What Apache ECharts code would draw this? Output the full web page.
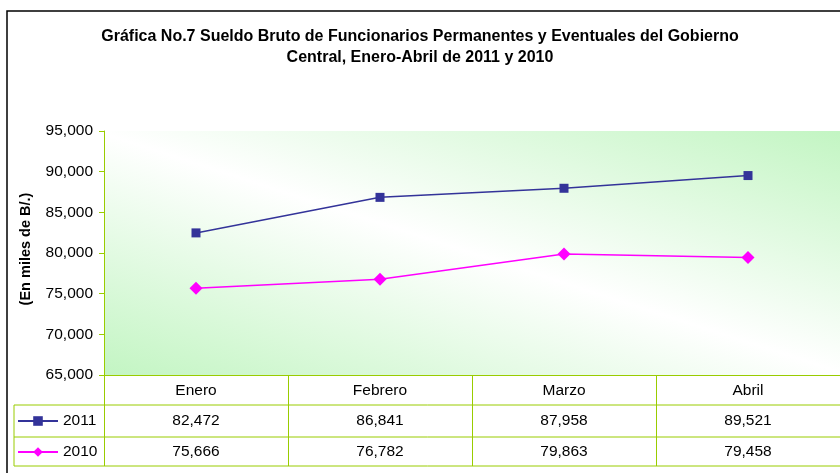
<!DOCTYPE html>
<html>
<head>
<meta charset="utf-8">
<script src="https://cdn.jsdelivr.net/npm/echarts@6/dist/echarts.min.js"></script>
<style>
  html, body { margin: 0; padding: 0; background: #fff; overflow: hidden; }
  #chart { width: 840px; height: 473px; }
</style>
</head>
<body>
<div id="chart"></div>
<script>
// datos
var meses = ['Enero', 'Febrero', 'Marzo', 'Abril'];
var anios = ['2011', '2010'];
var sueldo2011 = [82472, 86841, 87958, 89521];
var sueldo2010 = [75666, 76782, 79863, 79458];
var yTicks = [65000, 70000, 75000, 80000, 85000, 90000, 95000];

var verde = '#99cc00';
var fuente = '"Liberation Sans", Arial, sans-serif';

function miles(v) {
    return String(v).replace(/\B(?=(\d{3})+(?!\d))/g, ',');
}

(function () {
    var myChart = echarts.init(document.getElementById('chart'));

    // medidas del area y de la tabla
    var gLeft = 104, gTop = 131, gBottom = 375;
    var fila1 = 405, fila2 = 437, fila3 = 466, tablaIzq = 14;

    var option = {
        animation: false,
        title: {
            text: 'Gráfica No.7 Sueldo Bruto de Funcionarios Permanentes y Eventuales del Gobierno\nCentral, Enero-Abril de 2011 y 2010',
            left: 'center',
            top: 21,
            padding: [5, 0, 5, 20],
            textStyle: {
                fontFamily: fuente,
                fontSize: 16,
                fontWeight: 'bold',
                lineHeight: 21,
                color: '#000'
            }
        },
        legend: {
            orient: 'vertical',
            left: 17,
            top: 413,
            padding: 0,
            itemWidth: 40,
            itemHeight: 12,
            itemGap: 15,
            data: anios,
            textStyle: { fontFamily: fuente, fontSize: 15.5, color: '#000', lineHeight: 16 }
        },
        grid: {
            left: gLeft,
            top: gTop,
            right: -8,
            bottom: 473 - gBottom,
            show: true,
            borderWidth: 0,
            // degradado en diagonal: verde abajo-izq y arriba-der, blanco en la diagonal
            backgroundColor: {
                type: 'linear',
                x: 0.403, y: 1.403, x2: 0.597, y2: -0.403,
                colorStops: [
                    { offset: 0, color: '#c2f5c2' },
                    { offset: 0.5, color: '#ffffff' },
                    { offset: 1, color: '#c2f5c2' }
                ]
            }
        },
        xAxis: [
            {
                type: 'category',
                data: meses,
                position: 'bottom',
                boundaryGap: true,
                axisLine: { show: true, lineStyle: { color: verde, width: 1 } },
                axisTick: { show: true, length: fila3 - gBottom, lineStyle: { color: verde } },
                axisLabel: { margin: 8, fontFamily: fuente, fontSize: 15.5, color: '#000' },
                splitLine: { show: false }
            },
            {
                type: 'category',
                data: meses,
                position: 'bottom',
                offset: fila1 - gBottom,
                axisLine: { show: false },
                axisTick: { show: false },
                axisLabel: {
                    margin: 8, fontFamily: fuente, fontSize: 15.5, color: '#000',
                    formatter: function (v, i) { return miles(sueldo2011[i]); }
                }
            },
            {
                type: 'category',
                data: meses,
                position: 'bottom',
                offset: fila2 - gBottom,
                axisLine: { show: false },
                axisTick: { show: false },
                axisLabel: {
                    margin: 7, fontFamily: fuente, fontSize: 15.5, color: '#000',
                    formatter: function (v, i) { return miles(sueldo2010[i]); }
                }
            }
        ],
        yAxis: {
            type: 'value',
            min: yTicks[0],
            max: yTicks[yTicks.length - 1],
            interval: yTicks[1] - yTicks[0],
            name: '(En miles de B/.)',
            nameLocation: 'middle',
            nameRotate: 90,
            nameGap: 71,
            nameTextStyle: {
                fontFamily: fuente, fontSize: 14.5, fontWeight: 'bold', color: '#000',
                padding: [0, 0, 0, 8]
            },
            axisLine: { show: true, lineStyle: { color: verde, width: 1 } },
            axisTick: { show: true, length: 5, lineStyle: { color: verde } },
            axisLabel: {
                margin: 11, fontFamily: fuente, fontSize: 15.5, color: '#000',
                formatter: function (v) { return miles(v); }
            },
            splitLine: { show: false }
        },
        series: [
            {
                name: anios[0],
                type: 'line',
                data: sueldo2011,
                color: '#333399',
                symbol: 'rect',
                symbolSize: 9,
                lineStyle: { width: 1.5 }
            },
            {
                name: anios[1],
                type: 'line',
                data: sueldo2010,
                color: '#ff00ff',
                symbol: 'diamond',
                symbolSize: 13,
                lineStyle: { width: 1.5 }
            }
        ],
        graphic: [
            // marco exterior
            { type: 'rect', shape: { x: 7, y: 11, width: 900, height: 500 },
              style: { fill: null, stroke: '#000', lineWidth: 1.5 }, z: 10 },
            // lineas de la tabla
            { type: 'line', shape: { x1: tablaIzq, y1: fila1, x2: 850, y2: fila1 }, style: { stroke: verde, lineWidth: 1 }, z: 10 },
            { type: 'line', shape: { x1: tablaIzq, y1: fila2, x2: 850, y2: fila2 }, style: { stroke: verde, lineWidth: 1 }, z: 10 },
            { type: 'line', shape: { x1: tablaIzq, y1: fila3, x2: 850, y2: fila3 }, style: { stroke: verde, lineWidth: 1 }, z: 10 },
            { type: 'line', shape: { x1: tablaIzq, y1: fila1, x2: tablaIzq, y2: fila3 }, style: { stroke: verde, lineWidth: 1 }, z: 10 }
        ]
    };

    myChart.setOption(option);

    window.addEventListener('resize', function () {
        myChart.resize();
    });
})();
</script>
</body>
</html>
